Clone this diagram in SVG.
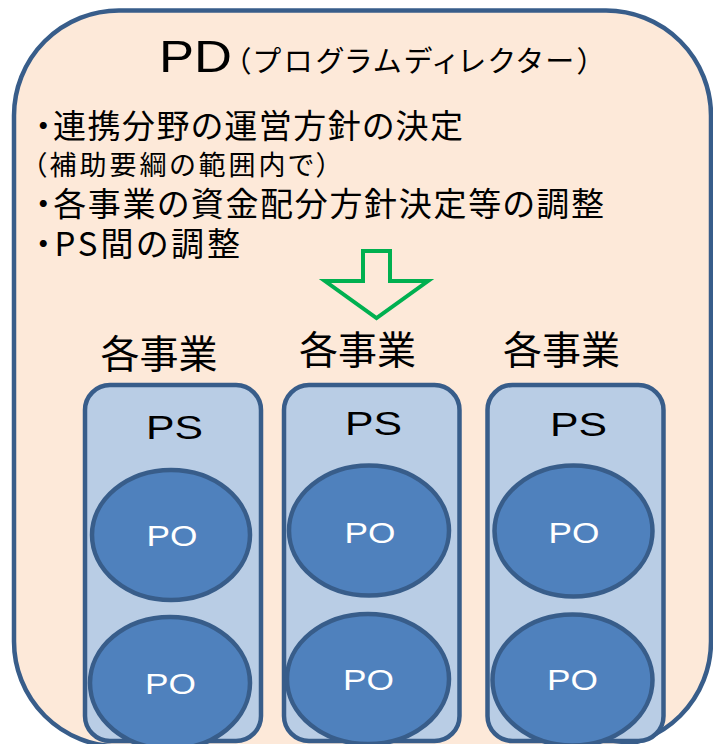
<svg xmlns="http://www.w3.org/2000/svg" width="713" height="744" viewBox="0 0 713 744">
<style>
.jp{font-family:"Noto Sans CJK JP","Noto Sans CJK SC",sans-serif;fill:#000;font-feature-settings:"palt" 1;}
.lat{font-family:"Liberation Sans","Noto Sans",Arial,sans-serif;}
.ps{fill:#B9CDE5;stroke:#385D8A;stroke-width:4.5;}
.po{fill:#4F81BD;stroke:#385D8A;stroke-width:4.5;}
.pot{font-family:"Liberation Sans",Arial,sans-serif;font-size:30px;fill:#FFFFFF;}
.pst{font-family:"Liberation Sans",Arial,sans-serif;font-size:34px;fill:#000;}
.biz{font-family:"Noto Sans CJK JP",sans-serif;font-size:39px;fill:#000;text-anchor:middle;}
</style>
<rect x="0" y="0" width="713" height="744" fill="#FFFFFF"/>
<g id="pd">
<rect x="14" y="10.5" width="697" height="736" rx="105" ry="105" fill="#FDE9D9" stroke="#385D8A" stroke-width="4.5"/>
<text y="72"><tspan x="159" class="lat" font-size="45" textLength="73" lengthAdjust="spacingAndGlyphs">PD</tspan><tspan class="jp" font-size="29" dx="4" textLength="356" lengthAdjust="spacing">（プログラムディレクター）</tspan></text>
<text class="jp" x="35" y="138" font-size="33" textLength="428" lengthAdjust="spacing">・連携分野の運営方針の決定</text>
<text class="jp" x="33" y="175" font-size="27" textLength="297" lengthAdjust="spacing">（補助要綱の範囲内で）</text>
<text class="jp" x="35" y="216" font-size="33" textLength="569" lengthAdjust="spacing">・各事業の資金配分方針決定等の調整</text>
<text class="jp" x="35" y="256" font-size="33" textLength="205" lengthAdjust="spacing">・PS間の調整</text>
</g>
<g id="connectors">
<polygon points="363,251 390,251 390,281 428,281 376.5,318 325,281 363,281" fill="none" stroke="#00B050" stroke-width="4" stroke-linejoin="miter"/>
</g>
<g id="biz1">
<text class="biz" x="159" y="368">各事業</text>
<rect class="ps" x="85" y="385" width="176" height="356" rx="25" ry="25"/>
<text class="pst" x="146" y="439" textLength="57" lengthAdjust="spacingAndGlyphs">PS</text>
<g id="po1a"><ellipse class="po" cx="171" cy="535" rx="79" ry="65"/><text class="pot" x="146.5" y="546" textLength="51" lengthAdjust="spacingAndGlyphs">PO</text></g>
<g id="po1b"><ellipse class="po" cx="170" cy="683" rx="80" ry="66"/><text class="pot" x="145" y="694" textLength="51" lengthAdjust="spacingAndGlyphs">PO</text></g>
</g>
<g id="biz2">
<text class="biz" x="357.5" y="364">各事業</text>
<rect class="ps" x="284" y="385" width="175.5" height="356" rx="25" ry="25"/>
<text class="pst" x="345" y="435" textLength="57" lengthAdjust="spacingAndGlyphs">PS</text>
<g id="po2a"><ellipse class="po" cx="369" cy="530.5" rx="80" ry="65"/><text class="pot" x="344.5" y="543" textLength="51" lengthAdjust="spacingAndGlyphs">PO</text></g>
<g id="po2b"><ellipse class="po" cx="368" cy="679" rx="81" ry="65"/><text class="pot" x="343" y="690" textLength="51" lengthAdjust="spacingAndGlyphs">PO</text></g>
</g>
<g id="biz3">
<text class="biz" x="561.5" y="364">各事業</text>
<rect class="ps" x="487.5" y="385" width="176" height="356" rx="25" ry="25"/>
<text class="pst" x="550" y="436" textLength="57" lengthAdjust="spacingAndGlyphs">PS</text>
<g id="po3a"><ellipse class="po" cx="573.5" cy="531" rx="79" ry="65.5"/><text class="pot" x="548.5" y="543" textLength="51" lengthAdjust="spacingAndGlyphs">PO</text></g>
<g id="po3b"><ellipse class="po" cx="572.5" cy="680" rx="80" ry="65.5"/><text class="pot" x="547" y="690" textLength="51" lengthAdjust="spacingAndGlyphs">PO</text></g>
</g>
</svg>
